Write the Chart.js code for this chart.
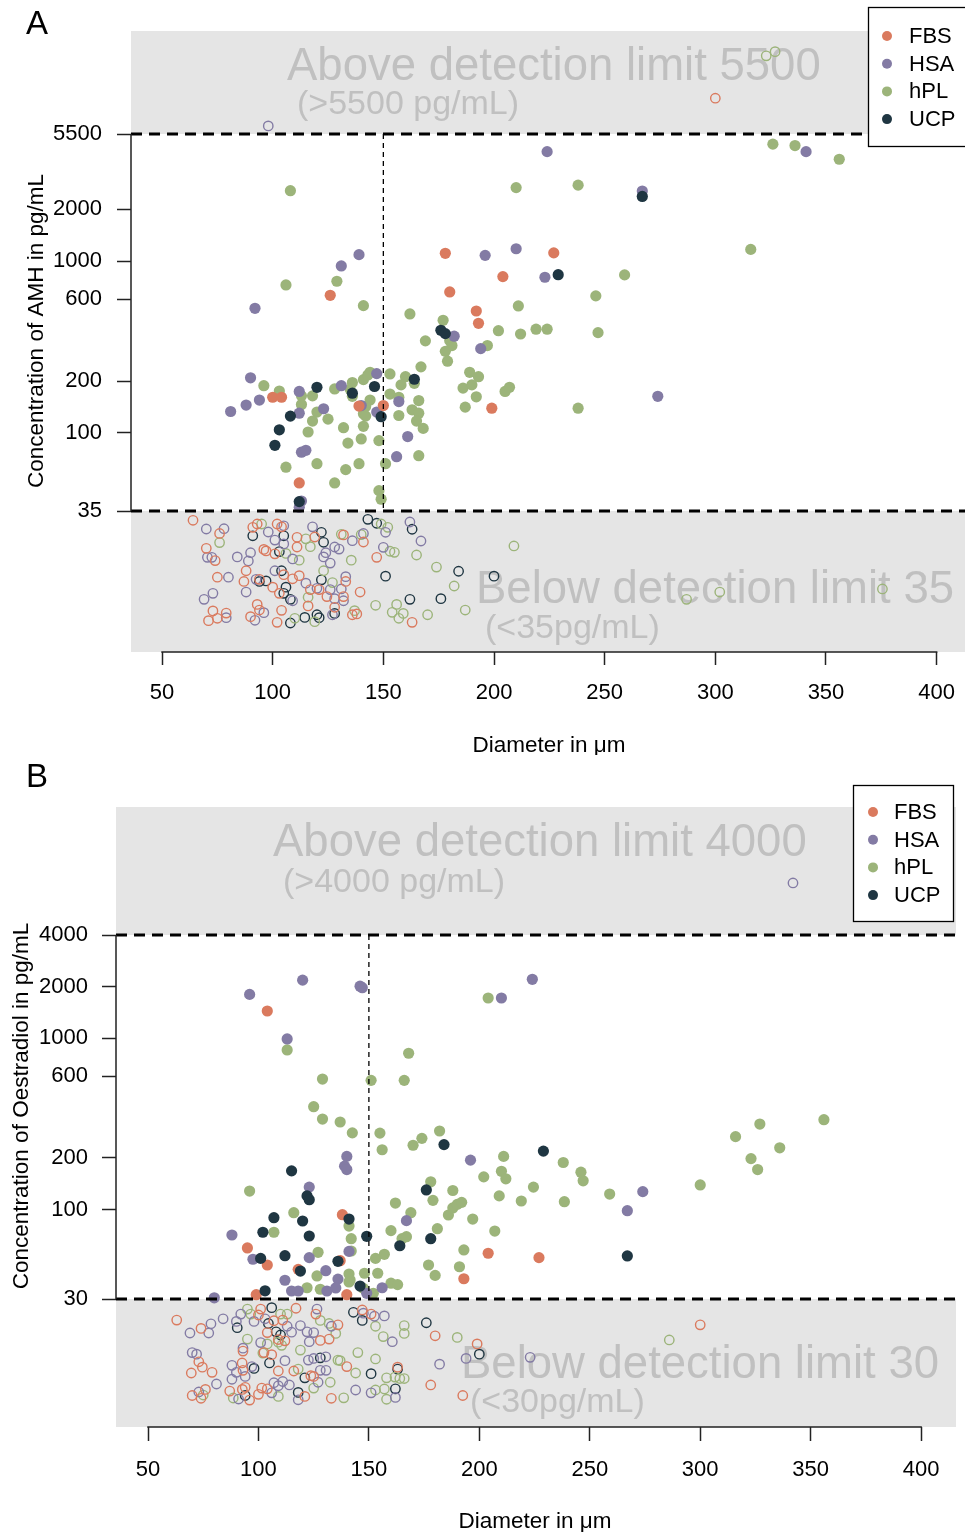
<!DOCTYPE html>
<html><head><meta charset="utf-8">
<script src="https://cdn.jsdelivr.net/npm/chart.js@4.4.1/dist/chart.umd.min.js"></script>
<style>
html,body{margin:0;padding:0;background:#fff;}
#wrap{position:relative;width:965px;height:1532px;overflow:hidden;}
canvas{position:absolute;left:0;}
#cA{top:0;} #cB{top:755px;}
</style></head><body>
<div id="wrap"><canvas id="cA" width="970" height="755"></canvas><canvas id="cB" width="965" height="777"></canvas></div>
<script>
const GROUPS = ['FBS','HSA','hPL','UCP'];
const COLORS = ['#DA7A5E','#837BA4','#9CB47A','#1F3642'];
const xTicks = [50,100,150,200,250,300,350,400];
const yTicksA = [35,100,200,600,1000,2000,5500];
const yTicksB = [30,100,200,600,1000,2000,4000];

// Panel A (AMH) detected values
const aFBS = [[126,632],[178,1110],[204,812],[180,661],[192,512],[193,434],[199,139],[100,161],[104,161],[112,51],[139,143],[150,144],[227,1116]];
const aHSA = [[224,4340],[139,1090],[131,937],[92,531],[196,1080],[210,1180],[223,805],[182,365],[194,309],[90,209],[94,155],[88,145],[81,133],[112,174],[123,138],[112,130],[113,77],[115,79],[113,40],[112,36.8],[131,188],[147,221],[140,144],[147,132],[157,152],[161,95],[156,72.5],[341,4340],[267,2560],[274,163]];
const aHPL = [[108,2570],[210,2680],[129,763],[106,726],[141,550],[211,548],[162,492],[177,452],[180,344],[181,322],[169,343],[202,393],[212,376],[219,401],[224,401],[197,322],[178,298],[179,261],[167,242],[189,225],[193,212],[186,182],[190,190],[192,162],[187,141],[205,174],[207,184],[96,188],[103,175],[113,164],[118,164],[113,146],[120,132],[118,117],[125,120],[116,101],[106,63],[120,66],[128,51],[133,61],[139,66],[128,180],[136,196],[141,204],[144,225],[143,217],[135,179],[136,163],[132,107],[141,109],[140,92],[134,87],[148,90],[144,155],[142,142],[141,129],[142,125],[151,66],[148,46],[149,41],[153,220],[160,212],[164,194],[158,190],[153,168],[157,161],[166,154],[163,136],[166,130],[157,126],[165,117],[168,106],[166,73.5],[326,4800],[336,4710],[356,3920],[238,2770],[316,1170],[259,831],[246,627],[247,383],[238,139]];
const aUCP = [[176,395],[178,378],[120,184],[108,125],[103,104],[101,84.5],[112,39.7],[136,170],[146,186],[149,124],[164,205],[267,2380],[229,833]];
// Panel A outside detection range (plotted in shaded bands)
const aFBSout = [[300,8890],[64,30.9],[76,25.9],[70,21.2],[74,18.0],[75,14.4],[73,9.16],[79,8.9],[71,8.04],[75,8.3],[88,15.7],[93,29.4],[91,28.1],[96,20.9],[97,20.5],[102,29.4],[104,28.3],[101,19.7],[111,24.6],[111,21.6],[87,13.6],[94,14.0],[100,12.6],[105,14.9],[109,14.1],[112,14.7],[103,11.6],[93,10.0],[94,9.27],[90,8.48],[102,7.86],[104,9.23],[116,9.8],[117,12.2],[119,24.7],[121,12.2],[124.5,11.1],[132,25.4],[133,13.6],[132,11.1],[128,9.62],[136,8.7],[138,8.8],[139.5,11.8],[141,23.1],[147,18.8],[163,7.86]];
const aHSAout = [[98,6130],[70,27.5],[78,27.6],[70.5,18.8],[72.5,18.8],[80,14.4],[73,11.6],[69,10.7],[79,8.37],[84,18.9],[89,17.9],[90,20.0],[92.5,14.0],[98,26.4],[105,28.7],[101,23.7],[109,18.4],[105,22.5],[88,11.8],[101,15.7],[109,10.5],[96,8.95],[92,8.08],[115,13.3],[120,12.4],[123,18.9],[124,20.0],[126,17.4],[128,21.6],[130,21.0],[118,28.3],[126,12.2],[136,23.5],[131,12.3],[133,14.5],[128,10.8],[132,10.5],[127,8.7],[141,25.9],[151,26.3],[150,21.5],[162,30.2],[167,23.4]];
const aHPLout = [[323,15700],[327,16600],[76,22.9],[95,29.4],[106,19.8],[112,18.1],[115,24.1],[110,8.3],[116,11.0],[123,15.7],[117,21.7],[131,25.6],[135.5,18.1],[127,13.4],[119,7.93],[137,9.19],[140,25.5],[149,29.4],[152,28.1],[153,20.4],[155,20.1],[165,19.4],[174,16.5],[182,12.8],[187,9.27],[170,8.7],[146.5,9.88],[156,10.0],[154,8.99],[159,8.86],[157,8.3],[209,21.9],[287,10.7],[302,11.8],[375.5,12.3]];
const aUCPout = [[91,25.1],[105,25.1],[103,20.3],[94,13.6],[97,13.7],[104,15.7],[106,12.6],[105,11.6],[108,10.7],[108,7.79],[114.5,8.4],[122,13.9],[122,26.3],[123,23.0],[120,8.7],[121,8.37],[128,8.86],[143,31.3],[147,29.7],[151,14.6],[163,27.4],[184,15.6],[200,14.6],[162,10.7],[176,10.8]];

// Panel B (Oestradiol) detected values
const bFBS = [[104,1440],[138,93.2],[95,59.6],[104,47.4],[137,50.2],[118,44.7],[99,31.8],[140,31.8],[193,39.4],[204,55.5],[227,52.3]];
const bHSA = [[120,2180],[96,1800],[146,2010],[147,1970],[113,989],[196,194],[140,204],[139,179],[140,171],[123,135],[88,70.9],[97.5,51.2],[123,52.3],[141,56.9],[130.5,43.9],[112,38.6],[136,39.2],[80,30.5],[115,33.4],[118,33.4],[131,33.4],[135,34.8],[149,32.4],[156,34.9],[167,86],[210,1715],[224,2205],[274,127],[267,98.3]];
const bHPL = [[113,853],[129,577],[151,567],[168,816],[166,567],[125,398],[129,337],[137,324],[142.5,280],[155,279],[156,223],[170,237],[174,260],[182,287],[211,204],[96,128],[116,95.7],[107,73.6],[141,80],[142,67.5],[127,56.2],[142,57.2],[126.5,40.9],[141,42],[141.5,38.7],[141,37.7],[148,42.4],[154,42.4],[153,51.8],[157,54.7],[122,34.9],[128,34.2],[147.5,34.6],[152,32.4],[160,37.1],[163,36.4],[160,75.2],[165,67.5],[167,69.3],[162,109],[169,95.7],[178,145],[179,113],[188,129],[186,92.8],[188,102],[190,107],[192,110],[197,87.9],[181,77.2],[193,58],[177,47.4],[180,41.2],[191,46.3],[207,74.8],[202,155],[210,167],[212,151],[209,120],[219,112],[224.5,135],[204,1715],[316,266],[327,315],[356,334],[336,229],[323,198],[326,171],[300,139],[259,123],[247,147],[246,165],[238,188],[238.5,111]];
const bUCP = [[184,239],[115,168],[122,120],[123,114],[107,89.5],[120,85.6],[102,73.6],[123,70],[141,87.9],[149,69.7],[101,51.8],[112,53.7],[136,49.8],[119,43.7],[103,33.5],[146,35.7],[164,61.4],[176,130],[178,67.5],[267,53.5],[229,219]];
// Panel B outside detection range
const bFBSout = [[63,22.6],[74,20.2],[73,12.9],[74.6,12.0],[79,11.2],[69.6,11.1],[70,8.2],[74,7.9],[76,8.9],[101,26.2],[100,24.2],[107,22.4],[111,22.6],[117,26.5],[104,19.1],[109,17.4],[112,17.1],[93,14.9],[102.5,14.6],[106,14.2],[92.6,12.7],[93,11.5],[109,11.4],[101.5,9.06],[104,8.97],[87,8.7],[92.7,8.9],[94,9.15],[96,7.71],[100,8.33],[121,8.1],[116,11.4],[125,10.6],[123.7,10.7],[140,12.1],[133,7.9],[163,12.0],[126,24.5],[136,21.2],[128,17.2],[132,17.5],[147,25.9],[151,24.5],[180,18.3],[199,16.4],[178,9.45],[192.5,8.2],[300,21.2]];
const bHSAout = [[342,8050],[69,19.0],[77.5,19.0],[78.5,21.5],[84,23.0],[70,14.6],[72,14.3],[81,9.57],[73,8.6],[90,22.2],[92,24.5],[98,22.2],[103,23.0],[101,16.7],[113,20.8],[115,19.2],[93,15.5],[112,13.1],[88,12.3],[90,11.2],[97,12.1],[94,10.6],[88,10.2],[107,9.74],[111,9.9],[109,9.35],[91,7.82],[106,8.5],[118,7.74],[114,9.45],[127,9.8],[128,11.5],[130.6,11.5],[122.6,13.2],[125,13.5],[130.5,13.8],[144,8.83],[151,8.5],[162,7.99],[119,21.0],[122,19.3],[126.5,26.2],[133,20.8],[125,19.1],[123,16.9],[147.5,24.8],[152.5,23.8],[157,23.9],[160.6,16.9],[194,13.5],[182,12.5],[223,13.7]];
const bHPLout = [[75,8.25],[95,26.2],[96.5,24.5],[110,24.5],[113,24.5],[95,17.5],[102,14.5],[104,16.4],[109,16.8],[110.5,16.1],[88.6,7.93],[109,8.1],[125,9.06],[118,11.7],[132.5,9.8],[136,13.2],[137,13.1],[144,11.1],[138.6,7.95],[153,8.83],[157,8.95],[158,7.8],[158,10.4],[161.8,10.5],[164,10.3],[166,10.3],[145,14.6],[153,13.4],[128,22.5],[132,21.6],[135,18.9],[119,15.1],[153,20.8],[166,21.0],[166,18.9],[156.5,18.1],[190,17.9],[286,17.3]];
const bUCPout = [[90.4,20.4],[106,26.7],[108,19.3],[110,18.5],[105,12.7],[98,11.8],[94,8.2],[118,8.55],[121,10.4],[128,13.6],[162,8.97],[151,11.0],[163,11.7],[143,25.1],[147,22.5],[176,21.8],[200,14.3],[104.5,21.6]];

const FONT = '"Liberation Sans", Arial, Helvetica, sans-serif';

function toXY(arr){ return arr.map(p => ({x:p[0], y:p[1]})); }

function buildDatasets(detected, outside){
  const ds = [];
  outside.forEach((arr,i) => ds.push({
    label: GROUPS[i] + ' (outside limits)', data: toXY(arr), showLine:false,
    pointRadius:4.7, pointHoverRadius:4.7, pointBackgroundColor:'rgba(0,0,0,0)',
    pointBorderColor:COLORS[i], pointBorderWidth:1.4
  }));
  [3,0,1,2].forEach(i => ds.push({
    label: GROUPS[i], data: toXY(detected[i]), showLine:false,
    pointRadius:5.6, pointHoverRadius:5.6, pointBackgroundColor:COLORS[i],
    pointBorderColor:COLORS[i], pointBorderWidth:0
  }));
  return ds;
}

function panelPlugin(cfg){
  return {
    id:'panelDecor',
    beforeDatasetsDraw(chart){
      const ctx = chart.ctx, a = chart.chartArea, y = chart.scales.y;
      const yHi = y.getPixelForValue(cfg.hi), yLo = y.getPixelForValue(cfg.lo);
      ctx.save();
      ctx.fillStyle = '#E5E5E5';
      ctx.fillRect(a.left, a.top, a.right - a.left, yHi - a.top);
      ctx.fillRect(a.left, yLo, a.right - a.left, a.bottom - yLo);
      ctx.fillStyle = '#C0C0C0';
      ctx.textAlign = 'left'; ctx.textBaseline = 'alphabetic';
      ctx.font = '45.5px ' + FONT;
      ctx.fillText(cfg.above[0], cfg.aboveX, cfg.aboveY);
      ctx.fillText(cfg.below[0], cfg.belowX, cfg.belowY);
      ctx.font = '34px ' + FONT;
      ctx.fillText(cfg.above[1], cfg.aboveSubX, cfg.aboveSubY);
      ctx.fillText(cfg.below[1], cfg.belowSubX, cfg.belowSubY);
      ctx.restore();
    },
    afterDatasetsDraw(chart){
      const ctx = chart.ctx, a = chart.chartArea, x = chart.scales.x, y = chart.scales.y;
      const yHi = y.getPixelForValue(cfg.hi), yLo = y.getPixelForValue(cfg.lo);
      ctx.save();
      ctx.strokeStyle = '#000';
      ctx.lineWidth = 2.8; ctx.setLineDash([11,7]);
      ctx.beginPath();
      ctx.moveTo(a.left, yHi); ctx.lineTo(a.right, yHi);
      ctx.moveTo(a.left, yLo); ctx.lineTo(a.right, yLo);
      ctx.stroke();
      const xv = x.getPixelForValue(cfg.vline);
      ctx.lineWidth = 1.3; ctx.setLineDash([5,4]);
      ctx.beginPath(); ctx.moveTo(xv, yHi); ctx.lineTo(xv, yLo); ctx.stroke();
      ctx.setLineDash([]);
      ctx.strokeStyle = '#222'; ctx.lineWidth = 1.5;
      ctx.beginPath();
      ctx.moveTo(a.left, yHi); ctx.lineTo(a.left, yLo);
      ctx.moveTo(x.getPixelForValue(xTicks[0]) - 0.75, a.bottom);
      ctx.lineTo(x.getPixelForValue(xTicks[xTicks.length-1]) + 0.75, a.bottom);
      ctx.stroke();
      // panel letter
      ctx.fillStyle = '#000'; ctx.textAlign = 'center'; ctx.textBaseline = 'middle';
      ctx.font = '33px ' + FONT;
      ctx.fillText(cfg.letter, cfg.letterX, cfg.letterY);
      // axis titles
      ctx.font = '22.5px ' + FONT;
      ctx.fillText(cfg.xTitle, cfg.xTitleX, cfg.xTitleY);
      ctx.save();
      ctx.translate(cfg.yTitleX, cfg.yTitleY); ctx.rotate(-Math.PI/2);
      ctx.fillText(cfg.yTitle, 0, 0);
      ctx.restore();
      // legend
      const L = cfg.legend;
      ctx.fillStyle = '#fff'; ctx.fillRect(L.x, L.y, L.w, L.h);
      ctx.strokeStyle = '#000'; ctx.lineWidth = 1.3;
      ctx.strokeRect(L.x + 0.5, L.y + 0.5, L.w, L.h);
      GROUPS.forEach((g,i) => {
        const cy = L.y0 + i * L.dy;
        ctx.fillStyle = COLORS[i];
        ctx.beginPath(); ctx.arc(L.dotX, cy, 5, 0, 2*Math.PI); ctx.fill();
        ctx.fillStyle = '#000'; ctx.font = '22px ' + FONT;
        ctx.textAlign = 'left'; ctx.textBaseline = 'middle';
        ctx.fillText(g, L.textX, cy + 1);
      });
      ctx.restore();
    }
  };
}

function makeChart(id, cfg){
  return new Chart(document.getElementById(id), {
    type:'scatter',
    data:{ datasets: buildDatasets(cfg.detected, cfg.outside) },
    options:{
      responsive:false, animation:false, events:[],
      layout:{ autoPadding:false, padding:{ left:0, top:cfg.padTop, right:cfg.padRight, bottom:0 } },
      plugins:{ legend:{display:false}, tooltip:{enabled:false} },
      scales:{
        x:{
          type:'linear', position:'bottom', min:cfg.xMin, max:cfg.xMax,
          afterBuildTicks:(s) => { s.ticks = xTicks.map(v => ({value:v})); },
          afterFit:(s) => { s.height = cfg.xAxisH; },
          grid:{ display:true, drawOnChartArea:false, drawTicks:true, tickLength:cfg.xTickLen, tickWidth:1.5, tickColor:'#222' },
          border:{ display:false },
          ticks:{ font:{family:FONT, size:22}, color:'#000', padding:cfg.xTickPad, maxRotation:0, autoSkip:false, callback:(v) => String(v) }
        },
        y:{
          type:'logarithmic', position:'left', min:cfg.yMin, max:cfg.yMax,
          afterBuildTicks:(s) => { s.ticks = cfg.yTicks.map(v => ({value:v})); },
          afterFit:(s) => { s.width = cfg.yAxisW; },
          grid:{ display:true, drawOnChartArea:false, drawTicks:true, tickLength:14, tickWidth:1.5, tickColor:'#222' },
          border:{ display:false },
          ticks:{ font:{family:FONT, size:22}, color:'#000', padding:cfg.yTickPad, autoSkip:false, callback:(v) => String(v) }
        }
      }
    },
    plugins:[ panelPlugin(cfg) ]
  });
}

makeChart('cA', {
  detected:[aFBS, aHSA, aHPL, aUCP], outside:[aFBSout, aHSAout, aHPLout, aUCPout],
  yTicks:yTicksA, hi:5500, lo:35, vline:150,
  xMin:35.98, xMax:413.1, yMin:5.28, yMax:21900,
  padTop:31, padRight:0, yAxisW:131, xAxisH:103,
  xTickLen:13, xTickPad:15, yTickPad:15,
  above:['Above detection limit 5500','(>5500 pg/mL)'], below:['Below detection limit 35','(<35pg/mL)'],
  aboveX:287, aboveY:80, aboveSubX:297, aboveSubY:114,
  belowX:476, belowY:603, belowSubX:485, belowSubY:638,
  letter:'A', letterX:37, letterY:25,
  xTitle:'Diameter in \u03BCm', xTitleX:549, xTitleY:746,
  yTitle:'Concentration of AMH in pg/mL', yTitleX:37, yTitleY:331,
  legend:{ x:868, y:7, w:100, h:139, y0:36, dy:27.7, dotX:887, textX:909 }
});

makeChart('cB', {
  detected:[bFBS, bHSA, bHPL, bUCP], outside:[bFBSout, bHSAout, bHPLout, bUCPout],
  yTicks:yTicksB, hi:4000, lo:30, vline:150,
  xMin:35.51, xMax:415.8, yMin:5.37, yMax:22350,
  padTop:52, padRight:9, yAxisW:116, xAxisH:105,
  xTickLen:14, xTickPad:16, yTickPad:14,
  above:['Above detection limit 4000','(>4000 pg/mL)'], below:['Below detection limit 30','(<30pg/mL)'],
  aboveX:273, aboveY:101, aboveSubX:283, aboveSubY:137,
  belowX:461, belowY:623, belowSubX:470, belowSubY:657,
  letter:'B', letterX:37, letterY:23,
  xTitle:'Diameter in \u03BCm', xTitleX:535, xTitleY:767,
  yTitle:'Concentration of Oestradiol in pg/mL', yTitleX:22, yTitleY:351,
  legend:{ x:853, y:30, w:100, h:136, y0:57, dy:27.7, dotX:873, textX:894 }
});
</script>
</body></html>
